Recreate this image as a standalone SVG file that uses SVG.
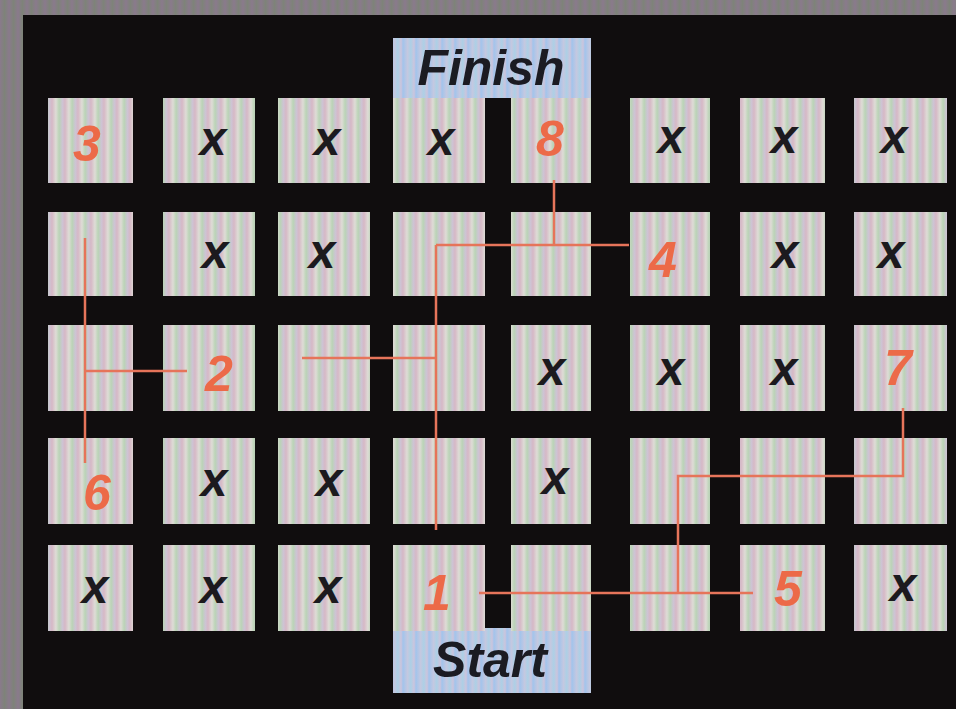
<svg xmlns="http://www.w3.org/2000/svg" width="956" height="709" viewBox="0 0 956 709">
  <defs>
    <linearGradient id="stripe" gradientUnits="userSpaceOnUse" x1="0" y1="0" x2="13" y2="0" spreadMethod="repeat">
      <stop offset="0" stop-color="#d6b8c6"/>
      <stop offset="0.3" stop-color="#dedcd6"/>
      <stop offset="0.55" stop-color="#bad4b6"/>
      <stop offset="0.8" stop-color="#cdc4d4"/>
      <stop offset="1" stop-color="#d6b8c6"/>
    </linearGradient>
    <linearGradient id="blue" gradientUnits="userSpaceOnUse" x1="0" y1="0" x2="13" y2="0" spreadMethod="repeat">
      <stop offset="0" stop-color="#a2c4ec"/>
      <stop offset="0.35" stop-color="#c4c8e0"/>
      <stop offset="0.6" stop-color="#acd0e6"/>
      <stop offset="0.85" stop-color="#ccc4dc"/>
      <stop offset="1" stop-color="#a2c4ec"/>
    </linearGradient>
    <linearGradient id="frame" gradientUnits="userSpaceOnUse" x1="0" y1="0" x2="9" y2="0" spreadMethod="repeat">
      <stop offset="0" stop-color="#8a7a8c"/>
      <stop offset="0.5" stop-color="#7e8379"/>
      <stop offset="1" stop-color="#8a7a8c"/>
    </linearGradient>
    <style>
      .tile { fill: url(#stripe); }
      .lbl { fill: url(#blue); }
      .x { font-family: "Liberation Sans", Arial, sans-serif; font-weight: bold; font-style: italic; font-size: 48px; fill: #1c1a1e; text-anchor: middle; }
      .n { font-family: "Liberation Sans", Arial, sans-serif; font-weight: bold; font-style: italic; font-size: 50px; fill: #ec6a48; text-anchor: middle; }
      .t { font-family: "Liberation Sans", Arial, sans-serif; font-weight: bold; font-style: italic; font-size: 50px; fill: #1b1b22; text-anchor: middle; }
      .wire { fill: none; stroke: #e6745a; stroke-width: 2.5; stroke-linejoin: miter; }
    </style>
  </defs>

  <rect x="0" y="0" width="956" height="709" fill="url(#frame)"/>
  <rect x="23" y="15" width="933" height="694" fill="#100d0e"/>

  <!-- Finish / Start labels -->
  <g id="finish">
    <rect class="lbl" x="393" y="38" width="198" height="60"/>
    <text class="t" x="491" y="85">Finish</text>
  </g>
  <g id="start">
    <rect class="lbl" x="393" y="628" width="198" height="65"/>
    <text class="t" x="490" y="677">Start</text>
  </g>

  <!-- Row 0 -->
  <g id="r0c0"><rect class="tile" x="48" y="98" width="85" height="85"/><text class="n" x="87" y="161">3</text></g>
  <g id="r0c1"><rect class="tile" x="163" y="98" width="92" height="85"/><text class="x" x="213" y="155">x</text></g>
  <g id="r0c2"><rect class="tile" x="278" y="98" width="92" height="85"/><text class="x" x="327" y="155">x</text></g>
  <g id="r0c3"><rect class="tile" x="393" y="98" width="92" height="85"/><text class="x" x="441" y="155">x</text></g>
  <g id="r0c4"><rect class="tile" x="511" y="98" width="80" height="85"/><text class="n" x="550" y="156">8</text></g>
  <g id="r0c5"><rect class="tile" x="630" y="98" width="80" height="85"/><text class="x" x="671" y="153">x</text></g>
  <g id="r0c6"><rect class="tile" x="740" y="98" width="85" height="85"/><text class="x" x="784" y="153">x</text></g>
  <g id="r0c7"><rect class="tile" x="854" y="98" width="93" height="85"/><text class="x" x="894" y="153">x</text></g>

  <!-- Row 1 -->
  <g id="r1c0"><rect class="tile" x="48" y="212" width="85" height="84"/></g>
  <g id="r1c1"><rect class="tile" x="163" y="212" width="92" height="84"/><text class="x" x="215" y="268">x</text></g>
  <g id="r1c2"><rect class="tile" x="278" y="212" width="92" height="84"/><text class="x" x="322" y="268">x</text></g>
  <g id="r1c3"><rect class="tile" x="393" y="212" width="92" height="84"/></g>
  <g id="r1c4"><rect class="tile" x="511" y="212" width="80" height="84"/></g>
  <g id="r1c5"><rect class="tile" x="630" y="212" width="80" height="84"/><text class="n" x="663" y="277">4</text></g>
  <g id="r1c6"><rect class="tile" x="740" y="212" width="85" height="84"/><text class="x" x="785" y="268">x</text></g>
  <g id="r1c7"><rect class="tile" x="854" y="212" width="93" height="84"/><text class="x" x="891" y="268">x</text></g>

  <!-- Row 2 -->
  <g id="r2c0"><rect class="tile" x="48" y="325" width="85" height="86"/></g>
  <g id="r2c1"><rect class="tile" x="163" y="325" width="92" height="86"/><text class="n" x="219" y="391">2</text></g>
  <g id="r2c2"><rect class="tile" x="278" y="325" width="92" height="86"/></g>
  <g id="r2c3"><rect class="tile" x="393" y="325" width="92" height="86"/></g>
  <g id="r2c4"><rect class="tile" x="511" y="325" width="80" height="86"/><text class="x" x="552" y="385">x</text></g>
  <g id="r2c5"><rect class="tile" x="630" y="325" width="80" height="86"/><text class="x" x="671" y="385">x</text></g>
  <g id="r2c6"><rect class="tile" x="740" y="325" width="85" height="86"/><text class="x" x="784" y="385">x</text></g>
  <g id="r2c7"><rect class="tile" x="854" y="325" width="93" height="86"/><text class="n" x="898" y="385">7</text></g>

  <!-- Row 3 -->
  <g id="r3c0"><rect class="tile" x="48" y="438" width="85" height="86"/><text class="n" x="97" y="510">6</text></g>
  <g id="r3c1"><rect class="tile" x="163" y="438" width="92" height="86"/><text class="x" x="214" y="496">x</text></g>
  <g id="r3c2"><rect class="tile" x="278" y="438" width="92" height="86"/><text class="x" x="329" y="496">x</text></g>
  <g id="r3c3"><rect class="tile" x="393" y="438" width="92" height="86"/></g>
  <g id="r3c4"><rect class="tile" x="511" y="438" width="80" height="86"/><text class="x" x="555" y="494">x</text></g>
  <g id="r3c5"><rect class="tile" x="630" y="438" width="80" height="86"/></g>
  <g id="r3c6"><rect class="tile" x="740" y="438" width="85" height="86"/></g>
  <g id="r3c7"><rect class="tile" x="854" y="438" width="93" height="86"/></g>

  <!-- Row 4 -->
  <g id="r4c0"><rect class="tile" x="48" y="545" width="85" height="86"/><text class="x" x="95" y="603">x</text></g>
  <g id="r4c1"><rect class="tile" x="163" y="545" width="92" height="86"/><text class="x" x="213" y="603">x</text></g>
  <g id="r4c2"><rect class="tile" x="278" y="545" width="92" height="86"/><text class="x" x="328" y="603">x</text></g>
  <g id="r4c3"><rect class="tile" x="393" y="545" width="92" height="86"/><text class="n" x="437" y="610">1</text></g>
  <g id="r4c4"><rect class="tile" x="511" y="545" width="80" height="86"/></g>
  <g id="r4c5"><rect class="tile" x="630" y="545" width="80" height="86"/></g>
  <g id="r4c6"><rect class="tile" x="740" y="545" width="85" height="86"/><text class="n" x="788" y="606">5</text></g>
  <g id="r4c7"><rect class="tile" x="854" y="545" width="93" height="86"/><text class="x" x="903" y="601">x</text></g>

  <!-- connectors -->
  <g id="connectors">
    <path class="wire" d="M554 180 V245"/>
    <path class="wire" d="M436 245 H629"/>
    <path class="wire" d="M436 245 V530"/>
    <path class="wire" d="M302 358 H436"/>
    <path class="wire" d="M85 238 V463"/>
    <path class="wire" d="M85 371 H187"/>
    <path class="wire" d="M479 593 H753"/>
    <path class="wire" d="M678 593 V476 H903 V408"/>
  </g>
</svg>
